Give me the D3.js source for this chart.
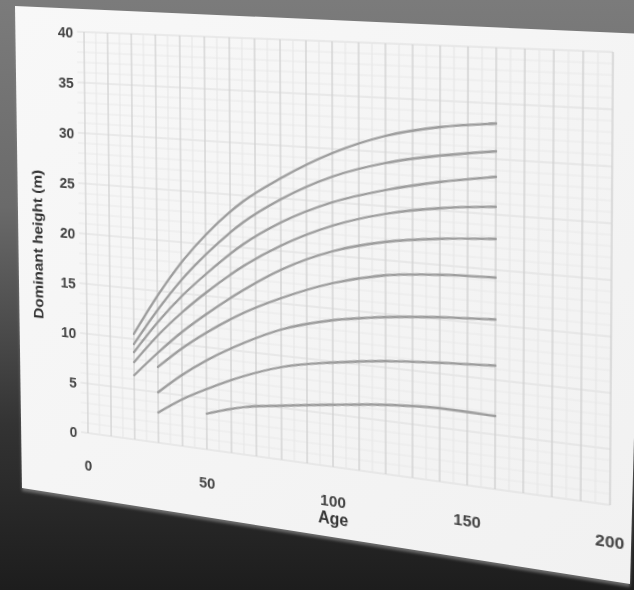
<!DOCTYPE html>
<html><head><meta charset="utf-8">
<script src="https://cdn.jsdelivr.net/npm/d3@7"></script>
<style>
html,body{margin:0;padding:0;background:#1e1e1e;overflow:hidden}
#wrap{position:relative;width:634px;height:590px;overflow:hidden}
#wrap svg{position:absolute;left:0;top:0;overflow:visible}
#chart{transform-origin:0 0;filter:blur(0.55px)}
</style></head><body>
<div id="wrap"></div>
<script>
// ---- data ----
const ages   = [20, 30, 40, 50, 65, 80, 100, 120, 140, 160];
const curve1 = [10.5, 14.5, 18.0, 20.9, 24.4, 26.9, 29.6, 31.5, 32.6, 33.2];
const curve2 = [9.5, 13.1, 16.3, 19.0, 22.4, 24.9, 27.4, 29.0, 30.0, 30.7];
const curve3 = [8.7, 11.9, 14.7, 17.1, 20.3, 22.7, 25.0, 26.5, 27.6, 28.4];
const curve4 = [7.7, 10.6, 13.1, 15.3, 18.2, 20.5, 22.8, 24.3, 25.2, 25.7];
const curve5 = [6.4, 8.9, 11.2, 13.2, 15.9, 18.2, 20.4, 21.7, 22.4, 22.8];
const curve6 = [null, 7.5, 9.6, 11.4, 13.7, 15.5, 17.4, 18.6, 19.1, 19.3];
const curve7 = [null, 5.0, 7.0, 8.7, 10.8, 12.5, 13.9, 14.7, 15.2, 15.5];
const curve8 = [null, 3.0, 4.6, 5.9, 7.6, 8.9, 9.9, 10.6, 11.0, 11.3];
const curve9 = [null, null, null, 3.5, 4.6, 5.2, 5.9, 6.5, 6.8, 6.7];
const seriesList = [curve1, curve2, curve3, curve4, curve5, curve6, curve7, curve8, curve9];
const xTicks = [0, 50, 100, 150, 200];
const yTicks = [0, 5, 10, 15, 20, 25, 30, 35, 40];
const xTitle = "Age";
const yTitle = "Dominant height (m)";

// ---- background (photo scene) ----
const W = 634, H = 590;
const wrap = d3.select("#wrap");
const bg = wrap.append("svg").attr("width", W).attr("height", H);
const defs = bg.append("defs");
const g1 = defs.append("linearGradient").attr("id", "bgGrad").attr("x1", 0).attr("y1", 0).attr("x2", 0).attr("y2", 1);
[[0, "#7b7b7b"], [0.35, "#6a6a6a"], [0.72, "#333333"], [1, "#1d1d1d"]].forEach(([o, c]) => g1.append("stop").attr("offset", o).attr("stop-color", c));
const g2 = defs.append("linearGradient").attr("id", "paperGrad").attr("x1", 0).attr("y1", 0).attr("x2", 1).attr("y2", 1);
[[0, "#f8f8f8"], [1, "#f1f1f1"]].forEach(([o, c]) => g2.append("stop").attr("offset", o).attr("stop-color", c));
bg.append("rect").attr("width", W).attr("height", H).attr("fill", "url(#bgGrad)");
const paper = [[15, 6], [645, 34], [630, 584], [22, 488]];
bg.append("polygon").attr("points", paper.map(p => [p[0], p[1] + 3].join(",")).join(" "))
  .attr("fill", "#8a8a8a").attr("opacity", 0.7).style("filter", "blur(1.5px)");
bg.append("polygon").attr("points", paper.map(p => p.join(",")).join(" ")).attr("fill", "url(#paperGrad)");

// ---- flat chart ----
const FW = 680, FH = 520;
const gx0 = 100, gx1 = 620, gy0 = 40, gy1 = 440;
const svg = wrap.append("svg").attr("id", "chart").attr("width", FW).attr("height", FH);
const x = d3.scaleLinear().domain([0, 200]).range([gx0, gx1]);
const y = d3.scaleLinear().domain([0, 40]).range([gy1, gy0]);

const grid = svg.append("g");
grid.selectAll("line.h").data(d3.range(0, 41, 1)).join("line")
  .attr("x1", x(-3)).attr("x2", gx1).attr("y1", d => y(d)).attr("y2", d => y(d))
  .attr("stroke", d => d % 5 === 0 ? "#dcdcdc" : "#eaeaea").attr("stroke-width", 1);
grid.selectAll("line.v").data(d3.range(0, 201, 5)).join("line")
  .attr("y1", gy0).attr("y2", gy1).attr("x1", d => x(d)).attr("x2", d => x(d))
  .attr("stroke", d => d % 10 === 0 ? "#d0d0d0" : "#e5e5e5").attr("stroke-width", d => d % 10 === 0 ? 1.3 : 1);

const line = d3.line().defined(d => d[1] != null).x(d => x(d[0])).y(d => y(d[1])).curve(d3.curveMonotoneX);
svg.append("g").selectAll("path").data(seriesList).join("path")
  .attr("d", s => line(ages.map((a, i) => [a, s[i]])))
  .attr("fill", "none").attr("stroke", "#9d9d9d").attr("stroke-width", 2.3).attr("stroke-linecap", "round");

const font = "'Liberation Sans', Arial, sans-serif";
svg.append("g").selectAll("text").data(yTicks).join("text")
  .attr("x", gx0 - 12).attr("y", d => y(d)).attr("dy", "0.36em").attr("text-anchor", "end")
  .attr("font-family", font).attr("font-size", 15.5).attr("font-weight", "bold").attr("fill", "#444").text(d => d);
svg.append("g").selectAll("text").data(xTicks).join("text")
  .attr("x", d => x(d)).attr("y", gy1 + 32).attr("dy", "0.36em").attr("text-anchor", "middle")
  .attr("font-family", font).attr("font-size", 15.5).attr("font-weight", "bold").attr("fill", "#444").text(d => d);
svg.append("text").attr("x", x(100)).attr("y", gy1 + 49).attr("dy", "0.36em").attr("text-anchor", "middle")
  .attr("font-family", font).attr("font-size", 16).attr("font-weight", "bold").attr("fill", "#333").text(xTitle);
svg.append("text").attr("transform", `translate(${gx0 - 55},${gy0 + 215}) rotate(-90)`).attr("dy", "0.36em")
  .attr("text-anchor", "middle").attr("font-family", font).attr("font-size", 15.5).attr("font-weight", "bold")
  .attr("fill", "#333").text(yTitle);

// ---- perspective (homography from flat grid corners to the photographed grid corners) ----
function homography(src, dst) {
  const A = [], b = [];
  for (let i = 0; i < 4; i++) {
    const [sx, sy] = src[i], [u, v] = dst[i];
    A.push([sx, sy, 1, 0, 0, 0, -u * sx, -u * sy]); b.push(u);
    A.push([0, 0, 0, sx, sy, 1, -v * sx, -v * sy]); b.push(v);
  }
  const n = 8;
  for (let c = 0; c < n; c++) {
    let p = c;
    for (let r = c + 1; r < n; r++) if (Math.abs(A[r][c]) > Math.abs(A[p][c])) p = r;
    [A[c], A[p]] = [A[p], A[c]]; [b[c], b[p]] = [b[p], b[c]];
    for (let r = 0; r < n; r++) {
      if (r === c) continue;
      const f = A[r][c] / A[c][c];
      for (let k = c; k < n; k++) A[r][k] -= f * A[c][k];
      b[r] -= f * b[c];
    }
  }
  return b.map((v, i) => v / A[i][i]);
}
const h = homography([[gx0, gy0], [gx1, gy0], [gx0, gy1], [gx1, gy1]],
                     [[84, 32], [613, 52], [88, 433], [610, 505]]);
svg.style("transform", `matrix3d(${h[0]},${h[3]},0,${h[6]},${h[1]},${h[4]},0,${h[7]},0,0,1,0,${h[2]},${h[5]},0,1)`);
</script>
</body></html>
